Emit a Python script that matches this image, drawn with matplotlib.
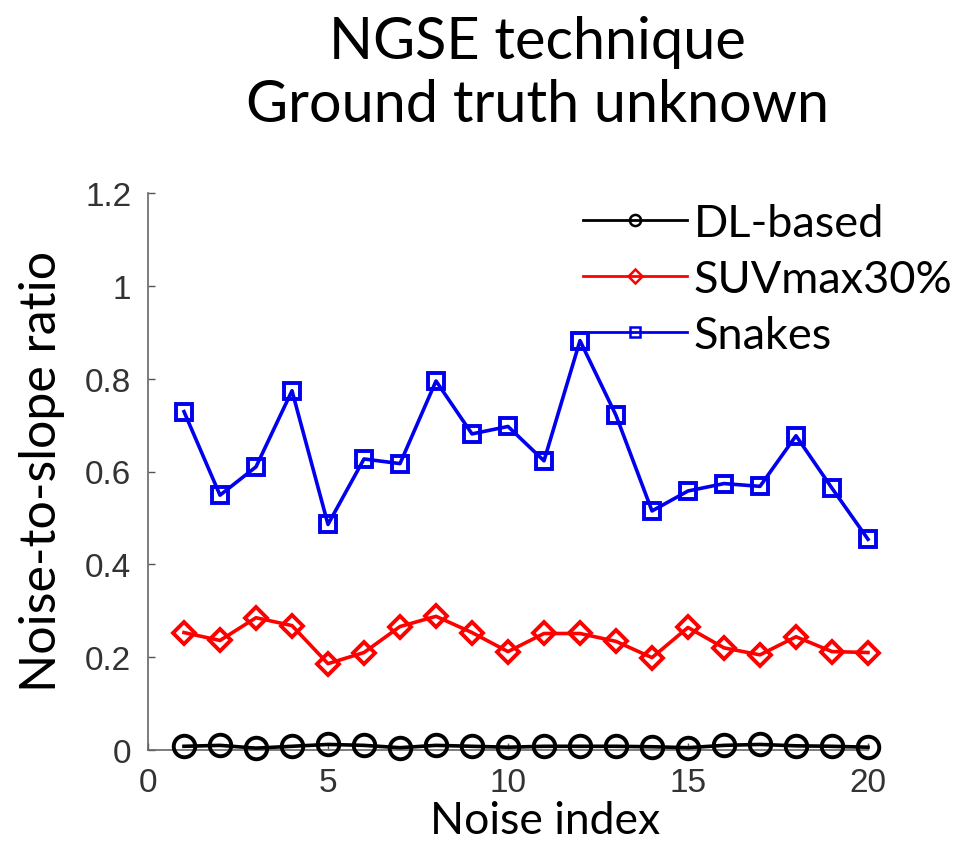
import matplotlib
matplotlib.use("Agg")
import matplotlib.pyplot as plt
from matplotlib.lines import Line2D
from matplotlib.ticker import FormatStrFormatter

# --- data ---
noise_index = list(range(1, 21))
dl_based = [0.008, 0.010, 0.004, 0.008, 0.012, 0.010, 0.005, 0.010, 0.008, 0.006,
            0.008, 0.008, 0.008, 0.007, 0.005, 0.010, 0.012, 0.009, 0.008, 0.006]
suvmax30 = [0.253, 0.236, 0.285, 0.268, 0.186, 0.210, 0.266, 0.288, 0.253, 0.212,
            0.251, 0.251, 0.234, 0.199, 0.264, 0.220, 0.205, 0.244, 0.212, 0.210]
snakes = [0.729, 0.549, 0.610, 0.774, 0.486, 0.627, 0.617, 0.795, 0.681, 0.697,
          0.623, 0.882, 0.721, 0.515, 0.558, 0.574, 0.568, 0.677, 0.564, 0.454]
series_names = ["DL-based", "SUVmax30%", "Snakes"]
x_ticks = [0, 5, 10, 15, 20]
y_ticks = [0, 0.2, 0.4, 0.6, 0.8, 1.0, 1.2]

label_font = "Lato"
tick_font = "Liberation Sans"

fig = plt.figure(figsize=(9.68, 8.53), dpi=100)
ax = fig.add_axes([148 / 968, 1 - 751 / 853, 720 / 968, 557 / 853])

ax.plot(noise_index, dl_based, color="black", lw=2.6, marker="o", ms=15.5,
        mfc="none", mew=2.8, clip_on=False, zorder=3)
ax.plot(noise_index, suvmax30, color="red", lw=2.6, marker="D", ms=11.5,
        mfc="none", mew=2.8, clip_on=False, zorder=3)
ax.plot(noise_index, snakes, color="#0000ee", lw=2.6, marker="s", ms=12,
        mfc="none", mew=2.8, clip_on=False, zorder=3)

ax.set_xlim(0, 20)
ax.set_ylim(0, 1.2)
ax.set_xticks(x_ticks)
ax.set_yticks(y_ticks)
ax.yaxis.set_major_formatter(FormatStrFormatter("%g"))
ax.tick_params(direction="in", length=5, width=1, colors="#555555",
               labelcolor="#333333", labelsize=24, pad=12)
for lab in ax.get_xticklabels() + ax.get_yticklabels():
    lab.set_family(tick_font)
for side in ["top", "right"]:
    ax.spines[side].set_visible(False)
for side in ["left", "bottom"]:
    ax.spines[side].set_color("#666666")
    ax.spines[side].set_linewidth(1.2)

# legend with small markers like the original
handles = [
    Line2D([], [], color="black", lw=2, marker="o", ms=8, mfc="none", mew=1.8),
    Line2D([], [], color="red", lw=2, marker="D", ms=7, mfc="none", mew=1.8),
    Line2D([], [], color="#0000ee", lw=2, marker="s", ms=7, mfc="none", mew=1.8),
]
leg = fig.legend(handles, series_names, loc="upper left",
                 bbox_to_anchor=(583 / 968, 1 - 204 / 853),
                 frameon=False, borderpad=0, borderaxespad=0,
                 handlelength=2.3, handletextpad=0.15, labelspacing=0.33,
                 prop={"family": label_font, "size": 32.5})

fig.text(42 / 968, 1 - 471 / 853, "Noise-to-slope ratio", rotation=90,
         ha="center", va="center", family=label_font, size=36)
fig.text(545 / 968, 1 - 822 / 853, "Noise index",
         ha="center", va="center", family=label_font, size=32)
fig.text(537 / 968, 1 - 74 / 853, "NGSE technique\nGround truth unknown",
         ha="center", va="center", family=label_font, size=41.5, linespacing=1.25)

fig.savefig("out.png", dpi=100)
